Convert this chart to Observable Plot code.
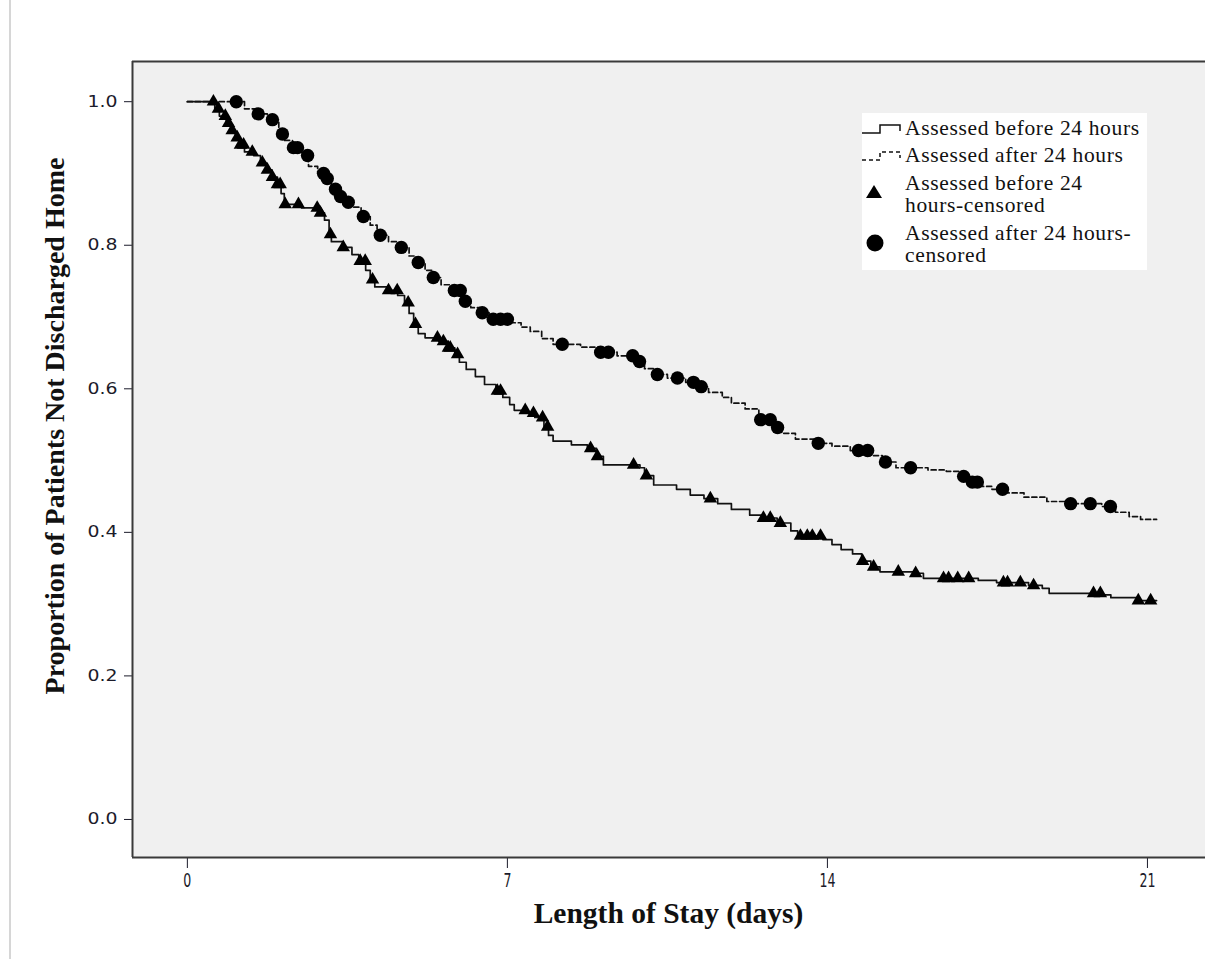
<!DOCTYPE html>
<html>
<head>
<meta charset="utf-8">
<script src="https://cdn.jsdelivr.net/npm/d3@7"></script>
<script src="https://cdn.jsdelivr.net/npm/@observablehq/plot@0.6"></script>
<style>
  html, body { margin: 0; padding: 0; background: #fff; }
  body { width: 1205px; height: 959px; overflow: hidden; position: relative; }
  #pageBorder { position: absolute; left: 9px; top: 0; width: 2px; height: 959px; background: #d6d6d6; }
  #chart { position: absolute; left: 0; top: 0; }
  .axisTitle { position: absolute; font-family: "Liberation Serif", "Times New Roman", serif; font-weight: bold; color: #111; white-space: nowrap; }
  #xTitle { left: 0; width: 1205px; top: 897px; text-align: center; padding-left: 132px; box-sizing: border-box; font-size: 29.5px; }
  #yTitle { left: 55px; top: 426px; transform: translate(-50%, -50%) rotate(-90deg); font-size: 28px; }
  #legend { position: absolute; left: 862px; top: 113px; width: 285px; height: 157px; background: #fff; font-family: "Liberation Serif", "Times New Roman", serif; font-size: 21.5px; letter-spacing: 0.65px; color: #111; }
  .lg { position: absolute; left: 43px; line-height: 22px; white-space: nowrap; }
  .sym { position: absolute; }
</style>
</head>
<body>
<div id="pageBorder"></div>
<div id="chart"></div>
<div id="xTitle" class="axisTitle">Length of Stay (days)</div>
<div id="yTitle" class="axisTitle">Proportion of Patients Not Discharged Home</div>
<div id="legend"></div>
<script>
// ---- Data ----
const xTicks = [0, 7, 14, 21];
const yTicks = [0.0, 0.2, 0.4, 0.6, 0.8, 1.0];

const seriesNames = ["Assessed before 24 hours", "Assessed after 24 hours"];
const legendLabels = [
  "Assessed before 24 hours",
  "Assessed after 24 hours",
  "Assessed before 24<br>hours-censored",
  "Assessed after 24 hours-<br>censored"
];

// Kaplan-Meier steps: [day, proportion]
const beforeSteps = [
  [0,1.0],[0.6,0.99],[0.7,0.98],[0.85,0.97],[0.95,0.96],[1.05,0.95],[1.15,0.94],[1.25,0.93],
  [1.45,0.925],[1.6,0.915],[1.72,0.905],[1.85,0.895],[1.97,0.885],[2.05,0.872],[2.12,0.857],
  [2.5,0.852],[2.85,0.845],[3.0,0.835],[3.1,0.815],[3.15,0.805],[3.4,0.797],[3.6,0.787],
  [3.75,0.778],[3.9,0.765],[4.0,0.752],[4.1,0.742],[4.4,0.737],[4.6,0.73],[4.75,0.72],
  [4.85,0.705],[4.95,0.69],[5.05,0.677],[5.2,0.671],[5.5,0.666],[5.7,0.657],[5.85,0.648],
  [5.95,0.637],[6.1,0.627],[6.3,0.617],[6.5,0.606],[6.75,0.597],[6.9,0.588],[7.05,0.578],
  [7.15,0.57],[7.4,0.566],[7.6,0.56],[7.8,0.547],[7.9,0.535],[8.0,0.527],[8.4,0.522],
  [8.75,0.517],[8.95,0.506],[9.1,0.494],[9.9,0.49],[10.0,0.479],[10.2,0.466],[10.7,0.46],
  [11.0,0.452],[11.3,0.447],[11.6,0.44],[11.9,0.432],[12.3,0.424],[12.6,0.42],[12.9,0.413],
  [13.2,0.402],[13.35,0.395],[13.9,0.39],[14.1,0.383],[14.3,0.376],[14.55,0.37],[14.75,0.36],
  [14.95,0.352],[15.15,0.345],[15.9,0.343],[16.1,0.336],[17.3,0.333],[17.7,0.33],[18.4,0.326],
  [18.7,0.322],[18.85,0.315],[20.0,0.313],[20.2,0.309],[20.8,0.305],[21.2,0.305]
];
const afterSteps = [
  [0,1.0],[1.1,1.0],[1.25,0.99],[1.5,0.983],[1.75,0.975],[2.0,0.955],[2.1,0.946],[2.3,0.936],
  [2.5,0.925],[2.65,0.91],[2.85,0.9],[3.0,0.893],[3.15,0.878],[3.3,0.868],[3.45,0.86],
  [3.6,0.853],[3.8,0.84],[4.0,0.828],[4.15,0.814],[4.4,0.805],[4.6,0.797],[4.85,0.785],
  [5.0,0.776],[5.2,0.765],[5.35,0.755],[5.55,0.745],[5.75,0.737],[6.0,0.722],[6.2,0.713],
  [6.4,0.706],[6.6,0.697],[7.05,0.692],[7.3,0.686],[7.5,0.68],[7.75,0.67],[8.0,0.662],
  [8.6,0.658],[9.0,0.651],[9.4,0.646],[9.8,0.638],[10.0,0.628],[10.2,0.62],[10.5,0.615],
  [10.9,0.609],[11.2,0.603],[11.4,0.595],[11.7,0.588],[11.9,0.58],[12.2,0.572],[12.5,0.557],
  [12.85,0.546],[13.0,0.538],[13.3,0.53],[13.7,0.524],[14.1,0.52],[14.5,0.514],[14.9,0.507],
  [15.2,0.498],[15.5,0.49],[16.2,0.487],[16.6,0.485],[16.9,0.478],[17.15,0.47],[17.3,0.464],
  [17.6,0.46],[17.9,0.455],[18.3,0.449],[18.8,0.443],[19.3,0.44],[20.0,0.436],[20.3,0.428],
  [20.6,0.422],[20.85,0.418],[21.2,0.418]
];

// Censoring times (days)
const beforeCensored = [0.57,0.68,0.83,0.9,0.98,1.09,1.16,1.23,1.42,1.64,1.75,1.86,1.97,2.03,2.14,
  2.43,2.84,2.91,3.13,3.41,3.78,3.89,4.05,4.4,4.59,4.83,4.99,5.47,5.6,5.71,5.75,5.91,6.78,6.85,
  7.39,7.57,7.77,7.88,8.82,8.97,9.76,10.04,11.44,12.6,12.75,12.97,13.41,13.56,13.67,13.85,14.77,
  15.01,15.55,15.93,16.54,16.65,16.85,17.09,17.85,17.94,18.22,18.51,19.82,19.97,20.8,21.07];
const afterCensored = [1.07,1.55,1.86,2.08,2.32,2.41,2.63,2.98,3.06,3.24,3.35,3.52,3.85,4.22,4.68,
  5.05,5.38,5.84,5.97,6.08,6.45,6.69,6.85,7.0,8.2,9.04,9.21,9.74,9.89,10.28,10.72,11.07,11.24,
  12.54,12.75,12.91,13.8,14.68,14.88,15.27,15.82,16.98,17.17,17.28,17.83,19.32,19.75,20.19];

// ---- Build tables ----
const toRows = (steps, g) => steps.map(([t, s]) => ({t, s, g}));
const levelAt = (steps, t) => { let v = steps[0][1]; for (const [st, s] of steps) { if (st <= t) v = s; else break; } return v; };
const beforeRows = toRows(beforeSteps, seriesNames[0]);
const afterRows = toRows(afterSteps, seriesNames[1]);
const beforeCensRows = beforeCensored.map(t => ({t, s: levelAt(beforeSteps, t)}));
const afterCensRows = afterCensored.map(t => ({t, s: levelAt(afterSteps, t)}));

const xDomain = [-1.2, 22.27];
const yDomain = [-0.053, 1.056];
const frameColor = "#3a3a3a";

const chart = Plot.plot({
  width: 1205,
  height: 959,
  marginLeft: 132,
  marginRight: 0,
  marginTop: 61,
  marginBottom: 102,
  style: { background: "transparent", fontFamily: "DejaVu Sans, sans-serif", fontSize: "15px", color: "#1b1b2a" },
  x: { domain: xDomain, ticks: xTicks, tickFormat: d => String(d), label: null, tickSize: 11, tickPadding: 4 },
  y: { domain: yDomain, ticks: yTicks, tickFormat: d3.format(".1f"), label: null, tickSize: 8, tickPadding: 7 },
  marks: [
    Plot.frame({ fill: "#f0f0f0", stroke: null }),
    Plot.ruleX([xDomain[0]], { stroke: frameColor, strokeWidth: 2 }),
    Plot.ruleY([yDomain[0], yDomain[1]], { stroke: frameColor, strokeWidth: 2 }),
    Plot.line(afterRows, { x: "t", y: "s", curve: "step-after", stroke: "#111", strokeWidth: 1.7, strokeDasharray: "5,3" }),
    Plot.line(beforeRows, { x: "t", y: "s", curve: "step-after", stroke: "#111", strokeWidth: 1.7 }),
    Plot.dot(beforeCensRows, { x: "t", y: "s", symbol: "triangle", r: 5, fill: "#000", stroke: null }),
    Plot.dot(afterCensRows, { x: "t", y: "s", symbol: "circle", r: 6.7, fill: "#000", stroke: null })
  ]
});
document.getElementById("chart").appendChild(chart);

// axis label styling
d3.select(chart).selectAll('g[aria-label^="y-axis"] text')
  .attr("textLength", 30).attr("lengthAdjust", "spacingAndGlyphs")
  .style("font-family", "DejaVu Sans, sans-serif").style("font-size", "15px");
d3.select(chart).selectAll('g[aria-label^="x-axis"] text')
  .style("font-family", "'Liberation Sans Narrow', 'DejaVu Sans Condensed', sans-serif")
  .style("font-size", "20px")
  .each(function () { const n = this.textContent.length; d3.select(this).attr("textLength", 8 * n).attr("lengthAdjust", "spacingAndGlyphs"); });
d3.select(chart).selectAll('g[aria-label^="x-axis"] line, g[aria-label^="y-axis"] line')
  .attr("stroke", frameColor).attr("stroke-width", 1.5);

// ---- Legend ----
const legend = document.getElementById("legend");
const symbols = [
  { svg: '<svg width="42" height="16"><path d="M0,12 H18 V4 H38 V10" fill="none" stroke="#111" stroke-width="1.5"/></svg>', sy: 5 },
  { svg: '<svg width="42" height="16"><path d="M0,12 H18 V4 H38 V10" fill="none" stroke="#111" stroke-width="1.5" stroke-dasharray="4,3"/></svg>', sy: 32 },
  { svg: '<svg width="20" height="18"><path d="M9,2 L17,15 L1,15 Z" fill="#000"/></svg>', sy: 69 },
  { svg: '<svg width="20" height="20"><circle cx="10" cy="10" r="8.5" fill="#000"/></svg>', sy: 120 }
];
const labelTops = [4, 31, 59, 109];
legendLabels.forEach((lab, i) => {
  const s = document.createElement("div");
  s.className = "sym";
  s.style.left = (i < 2 ? 0 : 3) + "px";
  s.style.top = symbols[i].sy + "px";
  s.innerHTML = symbols[i].svg;
  legend.appendChild(s);
  const t = document.createElement("div");
  t.className = "lg";
  t.style.top = labelTops[i] + "px";
  t.innerHTML = lab;
  legend.appendChild(t);
});
</script>
</body>
</html>
